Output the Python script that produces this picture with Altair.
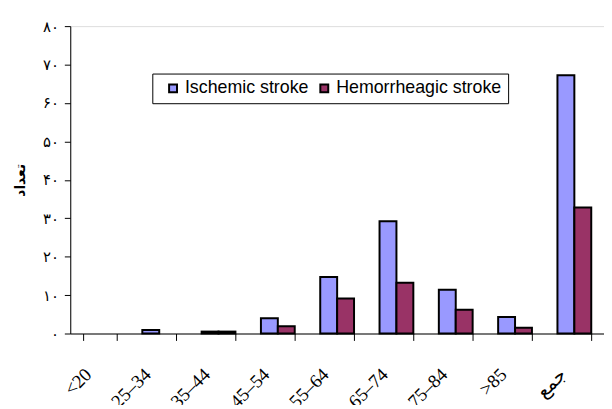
import altair as alt
import pandas as pd

categories = ["<20", "25–34", "35–44", "45–54", "55–64", "65–74", "75–84", ">85", "جمع"]
series_names = ["Ischemic stroke", "Hemorrheagic stroke"]
ischemic = [0, 0.9, 0.5, 4.0, 14.7, 29.2, 11.4, 4.3, 67.2]
hemorrhagic = [0, 0, 0.5, 1.9, 9.1, 13.2, 6.2, 1.5, 32.8]
y_ticks = [0, 10, 20, 30, 40, 50, 60, 70, 80]
y_tick_labels = ["۰", "۱۰", "۲۰", "۳۰", "۴۰", "۵۰", "۶۰", "۷۰", "۸۰"]
colors = ["#9999FF", "#993366"]

rows = []
for c, a, b in zip(categories, ischemic, hemorrhagic):
    rows.append({"cat": c, "series": series_names[0], "value": a})
    rows.append({"cat": c, "series": series_names[1], "value": b})
df = pd.DataFrame(rows)
df = df[df["value"] > 0]

expr = "''"
for v, lab in reversed(list(zip(y_ticks, y_tick_labels))):
    expr = f"datum.value == {v} ? '{lab}' : ({expr})"

chart = alt.Chart(df).mark_bar(stroke="black", strokeWidth=2).encode(
    x=alt.X("cat:N", sort=categories, title=None,
            scale=alt.Scale(domain=categories, paddingInner=0.43, paddingOuter=0.215),
            axis=alt.Axis(tickBand="extent", labelAngle=-45, labelAlign="right",
                          labelBaseline="middle", labelPadding=31, labelOffset=-12,
                          labelFont="Liberation Serif", labelFontSize=19,
                          labelColor="black", domainColor="black", tickColor="black",
                          tickSize=7, domainWidth=1, grid=False)),
    xOffset=alt.XOffset("series:N", sort=series_names,
                        scale=alt.Scale(domain=series_names, paddingInner=0, paddingOuter=0)),
    y=alt.Y("value:Q", title="تعداد",
            scale=alt.Scale(domain=[0, 80], nice=False),
            axis=alt.Axis(values=y_ticks, labelExpr=expr, grid=False,
                          labelFont="DejaVu Sans", labelFontSize=15, labelColor="black",
                          tickSize=6, tickColor="black", domainColor="black",
                          labelPadding=6, titleFont="DejaVu Sans", titleFontSize=14,
                          titleFontWeight="bold", titleColor="black", titlePadding=15)),
    color=alt.Color("series:N", sort=series_names,
                    scale=alt.Scale(domain=series_names, range=colors),
                    legend=alt.Legend(orient="none", legendX=83, legendY=48,
                                      direction="horizontal", title=None,
                                      labelFont="Liberation Sans", labelFontSize=18,
                                      labelColor="black", labelLimit=400,
                                      symbolType="square", gridAlign="none",
                                      symbolSize=64, symbolStrokeColor="black",
                                      symbolStrokeWidth=2, strokeColor="black",
                                      fillColor="white", padding=6, symbolOffset=6,
                                      columnPadding=0, labelOffset=3)),
).properties(
    width=540, height=311,
    autosize=alt.AutoSizeParams(type="none"),
    padding={"left": 63, "top": 16, "right": 0, "bottom": 70},
).configure_view(stroke=None).configure(background="white")

chart.save("out.html", embed_options={"renderer": "svg", "actions": False})
